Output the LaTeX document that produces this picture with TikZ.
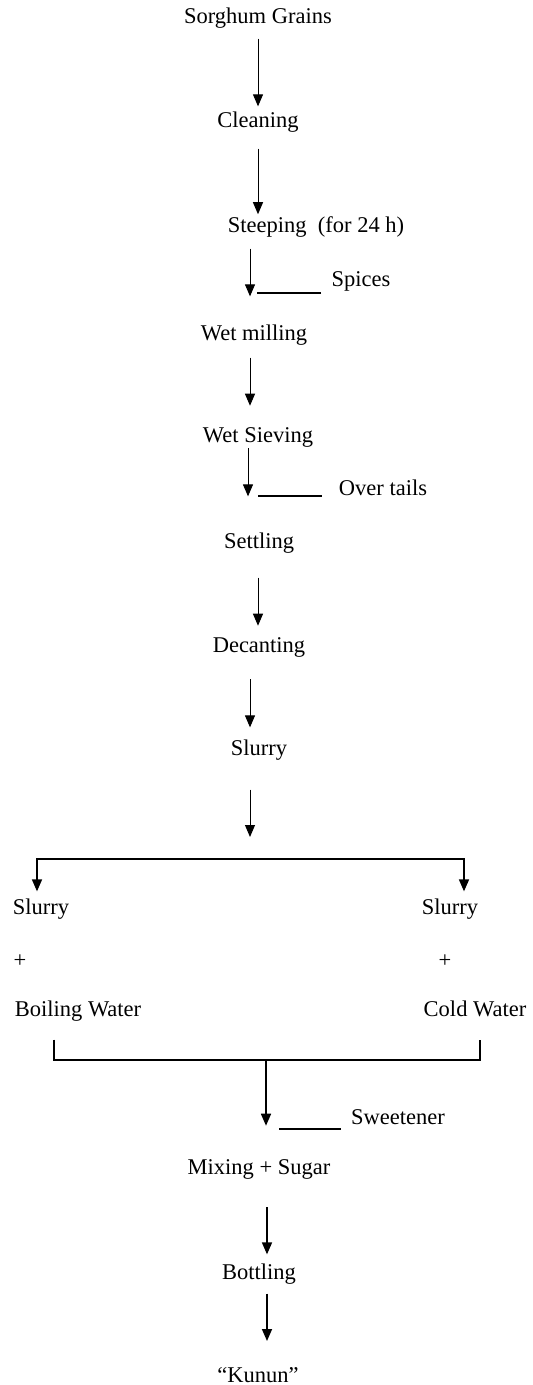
\documentclass[tikz,border=0pt]{standalone}
\usepackage{fontspec}
\setmainfont{Liberation Serif}
\usetikzlibrary{arrows.meta}

\begin{document}
\begin{tikzpicture}[x=0.5pt, y=-0.5pt,
  >={Triangle[width=5pt,length=6pt]},
  every node/.style={inner sep=0pt, font=\fontsize{11.25}{13}\selectfont},
  flow/.style={->, line width=0.5pt, draw=black},
  heavy/.style={->, line width=0.8pt, draw=black},
  side/.style={-, line width=0.75pt, draw=black}]
\useasboundingbox (0,0) rectangle (532,1385);
\node (grains) at (258,18) {Sorghum Grains};
\node (clean) at (258,122) {Cleaning};
\node (steep) at (316,227) {Steeping\ \ (for 24 h)};
\node (spices) at (361,281) {Spices};
\node (mill) at (254,335) {Wet milling};
\node (sieve) at (258,437) {Wet Sieving};
\node (tails) at (383,488) {Over tails};
\node (settle) at (259,543) {Settling};
\node (decant) at (259,647) {Decanting};
\node (slurry) at (259,750) {Slurry};
\node (slurryL) at (41,909) {Slurry};
\node (plusL) at (20,961) {+};
\node (boil) at (78,1011) {Boiling Water};
\node (slurryR) at (450,909) {Slurry};
\node (plusR) at (445,961) {+};
\node (cold) at (475,1008.5) {Cold Water};
\node (sweet) at (398,1117) {Sweetener};
\node (mix) at (259,1169) {Mixing + Sugar};
\node (bottle) at (259,1274) {Bottling};
\node (kunun) at (258,1375) {“Kunun”};
\coordinate (forkL) at (37,859);
\coordinate (forkR) at (464,859);
\coordinate (joinL) at (54,1060);
\coordinate (joinR) at (480,1060);
\draw [flow, shorten <=5pt, shorten >=2.5pt] (grains) -- (clean);
\draw [flow, shorten <=8pt, shorten >=1pt] (clean) -- (clean |- steep.north);
\draw [flow, shorten <=5.5pt, shorten >=14pt] ([xshift=-2pt]mill.north |- steep.south) -- ([xshift=-2pt]mill.north);
\draw [side] ([shift={(-10,12)}]spices.west) -- ++(-64,0);
\draw [flow, shorten <=6pt, shorten >=10.5pt] ([xshift=-2pt]mill.south) -- ([xshift=-2pt]mill.south |- sieve.north);
\draw [flow, shorten <=0.5pt, shorten >=18pt] ([xshift=-5pt]sieve.south) -- ([xshift=-5pt]sieve.south |- settle.north);
\draw [side] ([shift={(-17,8)}]tails.west) -- ++(-64,0);
\draw [flow, shorten <=12pt, shorten >=5.5pt] ([xshift=-0.5pt]settle.south) -- ([xshift=-0.5pt]decant.north);
\draw [flow, shorten <=11pt, shorten >=6pt] ([xshift=-4.5pt]decant.south) -- ([xshift=-4.5pt]slurry.north);
\draw [flow, shorten <=14.5pt, shorten >=11pt] ([xshift=-4.5pt]slurry.south) -- ([xshift=-4.5pt]slurry.south |- forkL);
% split into the two slurries
\draw [heavy, <->, shorten <=3.5pt, shorten >=3.5pt] (forkL |- slurryL.north) -- (forkL) -- (forkR) -- (forkR |- slurryR.north);
% join back together
\draw [side, shorten <=9pt, shorten >=9pt] (joinL |- boil.south) -- (joinL) -- (joinR) -- (joinR |- boil.south);
\draw [heavy, shorten >=16.5pt] ([xshift=3.5pt]mix.north |- joinL) -- ([xshift=3.5pt]mix.north);
\draw [side] ([shift={(-10,12)}]sweet.west) -- ++(-62,0);
\draw [heavy, shorten <=14pt, shorten >=4.5pt] ([xshift=4pt]mix.south) -- ([xshift=4pt]mix.south |- bottle.north);
\draw [heavy, shorten <=4.5pt, shorten >=13pt] ([xshift=4pt]bottle.south) -- ([xshift=4pt]bottle.south |- kunun.north);
\end{tikzpicture}
\end{document}
